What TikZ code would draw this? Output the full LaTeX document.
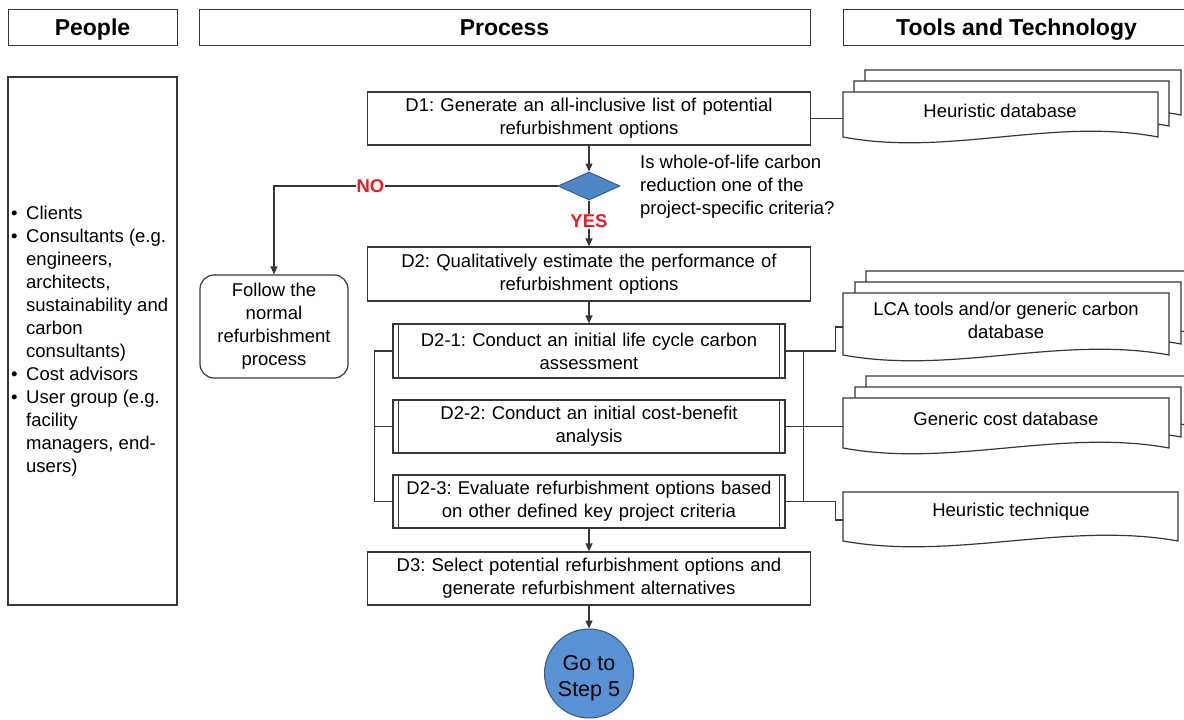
\documentclass[tikz,border=0pt]{standalone}
\usepackage{fontspec}
\setmainfont{Liberation Sans}
\usetikzlibrary{arrows.meta,shapes.geometric}
\definecolor{linec}{RGB}{55,55,55}
\definecolor{decblue}{RGB}{79,134,198}
\definecolor{endblue}{RGB}{88,145,212}
\definecolor{labelred}{RGB}{230,30,35}

% document symbol with a wavy lower edge: x0, ytop, x1, ybottom
\newcommand\tooldoc[4]{%
  \draw[docline] (#1,#2) -- (#3,#2) -- (#3,#4)
    .. controls ({#1+2*(#3-#1)/3},{#4-20}) and ({#1+(#3-#1)/3},{#4+20}) .. (#1,#4) -- cycle;}

\begin{document}
\frenchspacing
\begin{tikzpicture}[x=1pt,y=-1pt,
  body/.style={font=\fontsize{18.5}{23}\selectfont},
  line/.style={draw=linec,line width=1.2pt},
  arr/.style={line,-{Triangle[length=8pt,width=7pt]}},
  hdr/.style={draw=linec,line width=1pt,font=\fontsize{23}{27}\selectfont\bfseries,inner sep=0pt,minimum height=36pt,text height=16.6pt,text depth=0pt},
  stepbox/.style={body,draw=linec,line width=1.2pt,fill=white,minimum width=443pt,minimum height=53pt,text width=430pt,align=center,inner sep=0pt},
  subbox/.style={body,draw=linec,line width=1.2pt,fill=white,minimum width=392pt,minimum height=54pt,text width=380pt,align=center,inner sep=0pt},
  docline/.style={draw=linec,line width=1.2pt,fill=white},
  doctext/.style={body,align=center,inner sep=0pt},
  lbl/.style={font=\fontsize{18.5}{23}\selectfont\bfseries,text=labelred,fill=white,inner sep=1pt}]

\useasboundingbox (0,0) rectangle (1184,720);
\clip (0,0) rectangle (1184,720);

% column headers
\node[hdr,minimum width=169pt] (hpeople) at (92.5,27) {People};
\node[hdr,minimum width=611pt] (hprocess) at (504.5,27) {Process};
\node[hdr,minimum width=347pt] (htools) at (1016.5,27) {Tools and Technology};

% people column
\node[draw=linec,line width=1.2pt,minimum width=169pt,minimum height=528pt,inner sep=0pt] (peoplebox) at (92.5,341) {};
\node[body,anchor=west,align=left,inner sep=0pt] (peoplelist) at (11,341) {%
\makebox[15pt][l]{•}Clients\\
\makebox[15pt][l]{•}Consultants (e.g.\\
\hspace*{15pt}engineers,\\
\hspace*{15pt}architects,\\
\hspace*{15pt}sustainability and\\
\hspace*{15pt}carbon\\
\hspace*{15pt}consultants)\\
\makebox[15pt][l]{•}Cost advisors\\
\makebox[15pt][l]{•}User group (e.g.\\
\hspace*{15pt}facility\\
\hspace*{15pt}managers, end-\\
\hspace*{15pt}users)};

% process column
\node[stepbox] (d1) at (589,118.5) {D1: Generate an all-inclusive list of potential\\refurbishment options};
\node[diamond,draw=decblue!70!black,fill=decblue,line width=1pt,minimum width=62pt,minimum height=28pt,inner sep=0pt] (dec) at (589,186) {};
\node[body,anchor=west,align=left,inner sep=0pt] (question) at (640,187) {Is whole-of-life carbon\\reduction one of the\\project-specific criteria?};
\node[stepbox,minimum height=54pt] (d2) at (589,274) {D2: Qualitatively estimate the performance of\\refurbishment options};
\node[subbox] (d21) at (589,351) {D2-1: Conduct an initial life cycle carbon\\assessment};
\node[subbox,minimum height=53pt] (d22) at (589,426.5) {D2-2: Conduct an initial cost-benefit\\analysis};
\node[subbox,minimum height=53pt] (d23) at (589,501.5) {D2-3: Evaluate refurbishment options based\\on other defined key project criteria};
\node[stepbox] (d3) at (589,578.5) {D3: Select potential refurbishment options and\\generate refurbishment alternatives};
\node[body,draw=linec,line width=1.2pt,rounded corners=14pt,minimum width=148pt,minimum height=103pt,align=center,inner sep=0pt] (follow) at (274,326.5) {Follow the\\normal\\refurbishment\\process};
\node[circle,draw=endblue!60!black,fill=endblue,line width=1pt,minimum size=89pt,inner sep=0pt,font=\fontsize{21.5}{26}\selectfont,align=center] (goto) at (589,673.5) {\rule{0pt}{24pt}Go to\\Step 5};

\foreach \n in {d21,d22,d23}{
  \draw[line] ([xshift=6pt]\n.north west) -- ([xshift=6pt]\n.south west);
  \draw[line] ([xshift=-6pt]\n.north east) -- ([xshift=-6pt]\n.south east);
}

% tools and technology column
\tooldoc{865}{70}{1181}{115}
\tooldoc{854}{81}{1169}{126}
\tooldoc{843}{92}{1158}{137}
\node[doctext] (hdbtext) at (1000,111) {Heuristic database};
\coordinate (hdb) at (843,118.5);

\tooldoc{866}{271}{1192}{333}
\tooldoc{855}{282}{1181}{344}
\tooldoc{843}{293}{1169}{355}
\node[doctext] (lcatext) at (1006,320) {LCA tools and/or generic carbon\\database};
\coordinate (lca) at (843,327);

\tooldoc{866}{376}{1192}{426}
\tooldoc{855}{387}{1181}{437}
\tooldoc{843}{398}{1169}{448}
\node[doctext] (costtext) at (1006,419) {Generic cost database};
\coordinate (cost) at (843,426.5);

\tooldoc{843}{492}{1178}{541}
\node[doctext] (techtext) at (1011,512) {Heuristic technique};
\coordinate (tech) at (843,520);

% connectors
\draw[line] (d1.east) -- (hdb);
\draw[line] (d21.east) -- ++(50,0) |- (lca);
\draw[line] (d22.east) -- (cost);
\draw[line] (d23.east) -- ++(50,0) |- (tech);
\draw[line] ([xshift=18pt]d21.east) -- ([xshift=18pt]d23.east);
\draw[line] (d21.west) -- ++(-18,0) |- (d23.west);
\draw[line] (d22.west) -- ++(-18,0);

\draw[arr] (d1.south) -- (dec.north);
\draw[arr] (dec.west) -| node[lbl,pos=0.33] {NO} (follow.north);
\draw[arr] (dec.south) -- node[lbl,pos=0.45] {YES} (d2.north);
\draw[arr] (d2.south) -- (d21.north);
\draw[arr] (d23.south) -- (d3.north);
\draw[arr] (d3.south) -- (goto.north);
\end{tikzpicture}
\end{document}
